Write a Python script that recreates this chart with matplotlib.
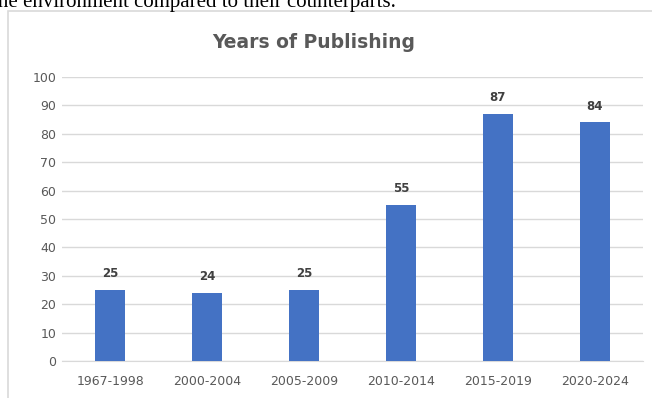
import matplotlib.pyplot as plt
from matplotlib.patches import Rectangle

periods = ['1967-1998', '2000-2004', '2005-2009', '2010-2014', '2015-2019', '2020-2024']
counts = [25, 24, 25, 55, 87, 84]
y_ticks = list(range(0, 101, 10))

W, H = 652, 398
fig = plt.figure(figsize=(W / 100, H / 100), dpi=100)

# the chart box from the surrounding document
fig.patches.append(Rectangle((8 / W, -0.1), 1.0, (H - 11) / H + 0.1, transform=fig.transFigure,
                             fill=False, edgecolor='#d9d9d9', linewidth=1.2))
fig.text(-0.013, (H - 7) / H, 'the environment compared to their counterparts.',
         family='Liberation Serif', fontsize=15, color='black', va='baseline', ha='left')

ax = fig.add_axes([62 / W, (H - 361) / H, (643 - 62) / W, (361 - 77) / H])
x = range(len(periods))
bars = ax.bar(x, counts, width=0.31, color='#4472C4', zorder=3)
for i, v in enumerate(counts):
    ax.annotate(str(v), (i, v), xytext=(0, 7), textcoords='offset points', ha='center', va='bottom',
                family='DejaVu Sans', fontsize=8.5, fontweight='bold', color='#404040')

ax.set_ylim(0, 100)
ax.set_xlim(-0.5, len(periods) - 0.5)
ax.set_yticks(y_ticks)
ax.set_xticks(list(x))
ax.set_xticklabels(periods)
ax.grid(axis='y', color='#d9d9d9', linewidth=1, zorder=0)
for s in ['top', 'right', 'left']:
    ax.spines[s].set_visible(False)
ax.spines['bottom'].set_color('#d9d9d9')
ax.tick_params(length=0, labelsize=9, labelcolor='#595959')
ax.tick_params(axis='x', pad=10)
ax.tick_params(axis='y', pad=4)
for lbl in ax.get_xticklabels() + ax.get_yticklabels():
    lbl.set_family('DejaVu Sans')

fig.text(314 / W, (H - 42) / H, 'Years of Publishing', family='DejaVu Sans', fontsize=13.5,
         fontweight='bold', color='#595959', ha='center', va='center')

fig.savefig('out.png', dpi=100)
